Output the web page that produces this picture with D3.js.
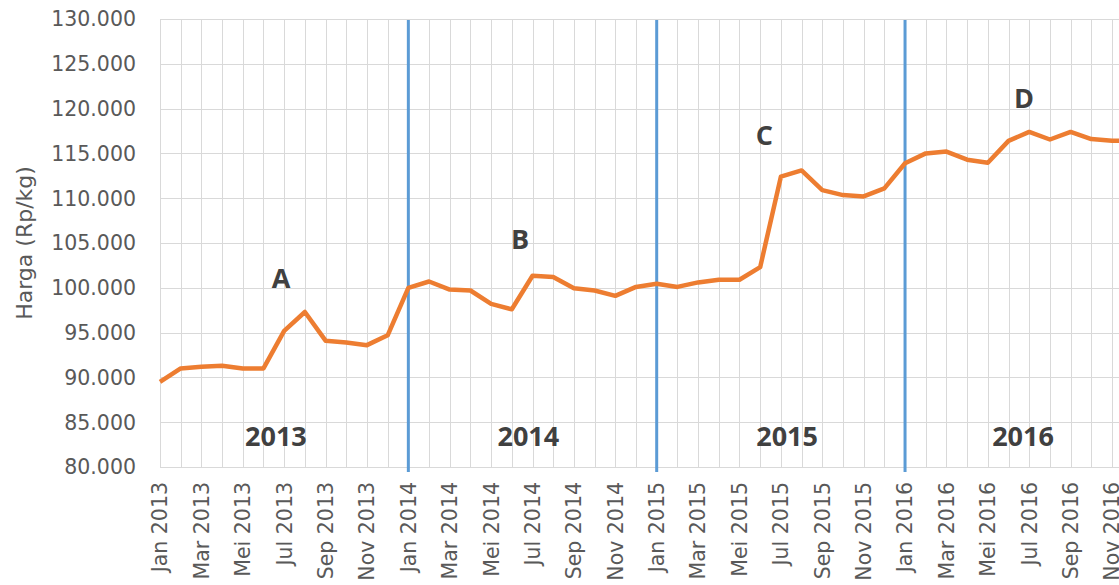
<!DOCTYPE html>
<html>
<head>
<meta charset="utf-8">
<script src="https://cdn.jsdelivr.net/npm/d3@7"></script>
<style>
  body { margin: 0; background: #fff; }
  svg { display: block; font-family: "DejaVu Sans", sans-serif; }
</style>
</head>
<body>
<script>
const monthNames = ["Jan", "Feb", "Mar", "Apr", "Mei", "Jun", "Jul", "Agu", "Sep", "Okt", "Nov", "Des"];
const years = [2013, 2014, 2015, 2016];

// harga per bulan (Rp/kg)
const harga = [
  89500, 91000, 91200, 91300, 91000, 91000, 95200, 97300, 94100, 93900, 93600, 94700,
  100000, 100700, 99800, 99700, 98200, 97600, 101350, 101200, 99950, 99700, 99100, 100100,
  100450, 100100, 100600, 100900, 100900, 102300, 112400, 113100, 110900, 110350, 110200, 111100,
  113900, 115000, 115200, 114300, 113950, 116400, 117400, 116550, 117400, 116600, 116400, 116400
];

const yTicks = [80000, 85000, 90000, 95000, 100000, 105000, 110000, 115000, 120000, 125000, 130000];

// penanda peristiwa dan label tahun (posisi dalam satuan bulan / harga)
const markers = [
  {text: "A", m: 5.85, v: 100000},
  {text: "B", m: 17.4, v: 104330},
  {text: "C", m: 29.2, v: 115950},
  {text: "D", m: 41.75, v: 120060}
];
const yearLabels = [
  {text: "2013", m: 5.6, v: 82300},
  {text: "2014", m: 17.8, v: 82300},
  {text: "2015", m: 30.3, v: 82300},
  {text: "2016", m: 41.7, v: 82300}
];
const dividers = [12, 24, 36];

const months = [];
years.forEach(y => monthNames.forEach(m => months.push(m + " " + y)));

const width = 1119, height = 585;
const plot = {left: 160, top: 19, bottom: 467};

const svg = d3.select("body").append("svg")
    .attr("width", width)
    .attr("height", height);

const x = d3.scaleLinear()
    .domain([0, 46])
    .range([plot.left, 1112]);
const y = d3.scaleLinear()
    .domain([80000, 130000])
    .range([plot.bottom, plot.top]);

// grid
svg.append("g")
  .selectAll("line")
  .data(d3.range(months.length))
  .enter().append("line")
    .attr("x1", i => Math.round(x(i)) + 0.5).attr("x2", i => Math.round(x(i)) + 0.5)
    .attr("y1", plot.top).attr("y2", plot.bottom)
    .attr("stroke", "#d9d9d9").attr("stroke-width", 1);

svg.append("g")
  .selectAll("line")
  .data(yTicks)
  .enter().append("line")
    .attr("x1", plot.left).attr("x2", width)
    .attr("y1", d => Math.round(y(d)) + 0.5).attr("y2", d => Math.round(y(d)) + 0.5)
    .attr("stroke", "#d9d9d9").attr("stroke-width", 1);

// y axis labels
const fmt = d => d3.format(",")(d).replace(/,/g, ".");
svg.append("g")
  .selectAll("text")
  .data(yTicks)
  .enter().append("text")
    .attr("x", 136)
    .attr("y", d => y(d))
    .attr("dy", "0.36em")
    .attr("text-anchor", "end")
    .attr("font-size", 20.5)
    .attr("fill", "#595959")
    .text(fmt);

// x axis labels, every other month
svg.append("g")
  .selectAll("text")
  .data(months.filter((m, i) => i % 2 === 0))
  .enter().append("text")
    .attr("transform", (d, i) => `translate(${x(i * 2)}, 482) rotate(-90)`)
    .attr("dy", "0.36em")
    .attr("text-anchor", "end")
    .attr("font-size", 20.5)
    .attr("fill", "#595959")
    .text(d => d);

// axis title
svg.append("text")
    .attr("transform", `translate(24, ${(plot.top + plot.bottom) / 2}) rotate(-90)`)
    .attr("dy", "0.36em")
    .attr("text-anchor", "middle")
    .attr("font-size", 22)
    .attr("fill", "#595959")
    .text("Harga (Rp/kg)");

// year dividers
svg.append("g")
  .selectAll("line")
  .data(dividers)
  .enter().append("line")
    .attr("x1", d => x(d)).attr("x2", d => x(d))
    .attr("y1", plot.top + 1).attr("y2", 472)
    .attr("stroke", "#5b9bd5").attr("stroke-width", 3);

// price line
const line = d3.line()
    .x((d, i) => x(i))
    .y(d => y(d));
svg.append("path")
    .datum(harga)
    .attr("d", line)
    .attr("fill", "none")
    .attr("stroke", "#ed7d31")
    .attr("stroke-width", 4.5)
    .attr("stroke-linejoin", "round");

// annotations
svg.append("g")
  .selectAll("text")
  .data(markers.concat(yearLabels))
  .enter().append("text")
    .attr("x", d => x(d.m))
    .attr("y", d => y(d.v))
    .attr("text-anchor", "middle")
    .attr("font-family", "'Open Sans', sans-serif")
    .attr("font-size", 27)
    .attr("font-weight", "bold")
    .attr("fill", "#404040")
    .text(d => d.text);
</script>
</body>
</html>
